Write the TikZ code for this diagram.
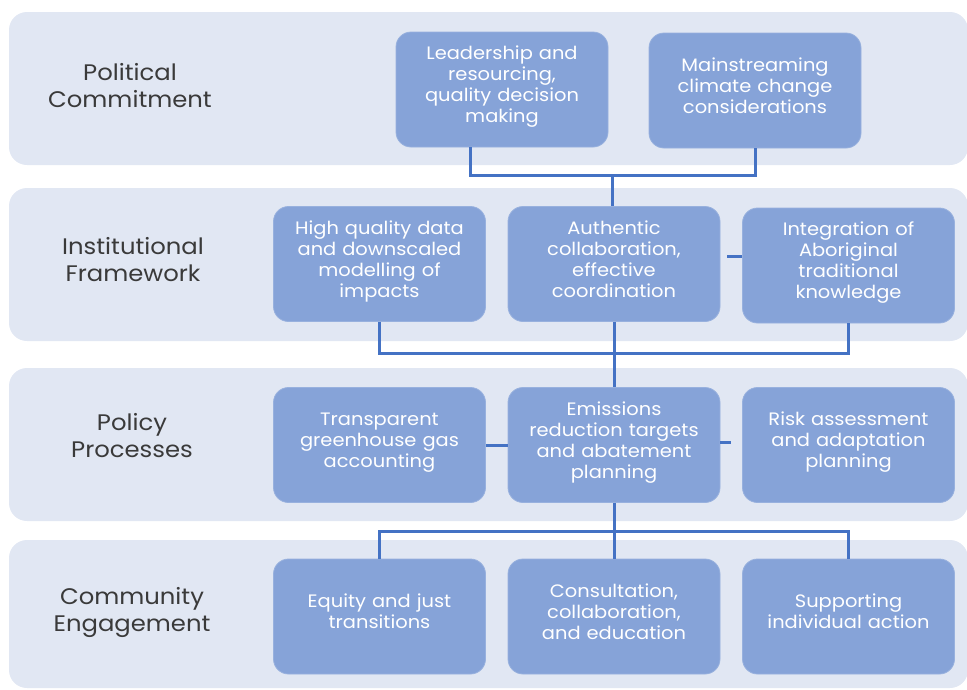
\documentclass[tikz,border=0pt]{standalone}
\usepackage{fontspec}
\setmainfont{Poppins}[FakeStretch=1.08]
\usetikzlibrary{calc}
\definecolor{bandc}{HTML}{E1E7F3}
\definecolor{boxc}{HTML}{86A3D8}
\definecolor{linec}{HTML}{4472C4}
\definecolor{labc}{HTML}{3A3A3A}
\tikzset{
  band/.style={fill=bandc, draw=none, rounded corners=18pt},
  boxn/.style={fill=boxc, draw=boxc!85!white, line width=0.8pt, rounded corners=15pt,
    minimum width=212pt, minimum height=115pt, inner sep=0pt, text width=206pt,
    align=center, text=white, font=\fontsize{18}{21}\selectfont,
    execute at end node={\\[-11pt]\mbox{}}},
  lab/.style={align=center, text=labc, font=\fontsize{22.5}{27}\selectfont},
  conn/.style={draw=linec, line width=3pt}
}
\begin{document}
\begin{tikzpicture}[x=1pt,y=-1pt]
\useasboundingbox (0,0) rectangle (967,689);
\clip (0,0) rectangle (967,689);
% bands
\path[band] (9,12) rectangle (968,165);
\path[band] (9,188) rectangle (968,341);
\path[band] (9,368) rectangle (968,521);
\path[band] (9,540) rectangle (968,688);
% labels
\node[lab] (l1) at (130,86) {Political\\Commitment};
\node[lab] (l2) at (133,260) {Institutional\\Framework};
\node[lab] (l3) at (132,436) {Policy\\Processes};
\node[lab] (l4) at (132,612) {Community\\Engagement};
% row 1
\node[boxn] (lead) at (502,89.5) {Leadership and\\resourcing,\\quality decision\\making};
\node[boxn] (main) at (755,90.5) {Mainstreaming\\climate change\\considerations};
% row 2
\node[boxn] (hq) at (379.5,264) {High quality data\\and downscaled\\modelling of\\impacts};
\node[boxn] (auth) at (614,264) {Authentic\\collaboration,\\effective\\coordination};
\node[boxn] (integ) at (848.5,265.5) {Integration of\\Aboriginal\\traditional\\knowledge};
% row 3
\node[boxn] (transp) at (379.5,445) {Transparent\\greenhouse gas\\accounting};
\node[boxn] (emis) at (614,445) {Emissions\\reduction targets\\and abatement\\planning};
\node[boxn] (risk) at (848.5,445) {Risk assessment\\and adaptation\\planning};
% row 4
\node[boxn] (equity) at (379.5,616.5) {Equity and just\\transitions};
\node[boxn] (cons) at (614,616.5) {Consultation,\\collaboration,\\and education};
\node[boxn] (supp) at (848.5,616.5) {Supporting\\individual action};
% junction coordinates
\coordinate (j1) at (612,175);
\coordinate (j2) at (614,353);
\coordinate (j3) at (614,531);
% connectors
\draw[conn] ([xshift=-32pt]lead.south) |- (j1) -| (main.south);
\draw[conn] (j1) -- (auth.north -| j1);
\draw[conn] ($(auth.east)+(7,-8)$) -- ($(integ.west)+(0,-9.5)$);
\draw[conn] (hq.south) |- (j2) -| (integ.south);
\draw[conn] (auth.south) -- (emis.north);
\draw[conn] (transp.east) -- (emis.west);
\draw[conn] ($(emis.east)+(0,-3)$) -- ++(11,0) coordinate (stub3);
\draw[conn] (emis.south) -- (cons.north);
\draw[conn] (equity.north) |- (j3) -| (supp.north);
\end{tikzpicture}
\end{document}
